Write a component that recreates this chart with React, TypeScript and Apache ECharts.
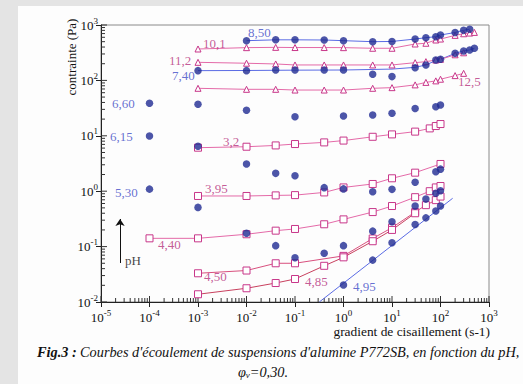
import React, { useEffect, useRef } from "react";
import * as echarts from "echarts";

// shear rate (s-1), stress (Pa)
const ph850 = [[0.01, 521], [0.04, 540], [0.1, 540], [0.4, 536], [1, 521], [4, 500], [10, 505], [30, 558], [50, 590], [80, 615], [100, 660], [200, 732], [300, 800], [400, 840]];
const ph101 = [[0.001, 369], [0.01, 390], [0.04, 395], [0.1, 392], [0.4, 392], [1, 390], [4, 380], [10, 380], [30, 454], [50, 468], [80, 536], [100, 558], [200, 650], [300, 695], [400, 715], [500, 735]];
const ph112 = [[0.001, 212], [0.01, 204], [0.04, 198], [0.1, 190], [0.4, 190], [1, 190], [4, 190], [10, 190], [30, 209], [50, 218], [80, 233], [100, 240], [200, 290], [300, 315]];
const ph740 = [[0.001, 150], [0.01, 150], [0.04, 154], [0.1, 154], [0.4, 154], [1, 154], [4, 129], [10, 117], [30, 169], [50, 190], [80, 233], [100, 240], [200, 308], [300, 340], [400, 354], [500, 380]];
const fit740 = [[0.001, 150], [0.01, 151], [0.1, 153], [1, 154], [10, 160], [30, 172], [50, 190], [80, 228], [100, 240], [200, 308], [300, 340], [400, 354], [500, 380]];
const ph125 = [[0.001, 72], [0.01, 69], [0.04, 69], [0.1, 67], [0.4, 67], [1, 67], [4, 72], [10, 74], [30, 83], [50, 92], [80, 98], [100, 105], [200, 122], [300, 134]];
const ph660 = [[1e-4, 38.6], [0.001, 37], [0.01, 29], [0.1, 22], [1, 22.8], [4, 23.7], [10, 25.5], [30, 31], [80, 33.5], [100, 36]];
const ph32 = [[0.001, 6.1], [0.01, 6.35], [0.04, 6.7], [0.1, 7.1], [0.4, 7.6], [1, 8.2], [4, 9.6], [10, 10.6], [30, 11.9], [60, 13.6], [80, 15], [100, 16.3]];
const ph615 = [[1e-4, 9.9], [0.001, 6.5], [0.01, 3.1], [0.04, 2.1], [0.1, 1.9], [0.4, 1.16], [1, 1.1], [4, 0.98], [10, 1.08], [30, 1.45], [80, 2.25], [100, 2.5]];
const ph395 = [[0.001, 0.82], [0.01, 0.82], [0.04, 0.84], [0.1, 0.85], [0.4, 0.95], [1, 1.17], [4, 1.35], [10, 1.71], [30, 2.16], [100, 3.1]];
const ph530 = [[1e-4, 1.09], [0.001, 0.51], [0.01, 0.174], [0.04, 0.104], [0.1, 0.063], [0.4, 0.076], [1, 0.104], [4, 0.19], [10, 0.28], [30, 0.54], [50, 0.72], [80, 0.92], [100, 1.02]];
const ph440 = [[1e-4, 0.141], [0.001, 0.141], [0.01, 0.167], [0.04, 0.194], [0.1, 0.208], [0.4, 0.253], [1, 0.31], [4, 0.42], [10, 0.54], [30, 0.78], [60, 1.0], [80, 1.17], [100, 1.24]];
const ph450 = [[0.001, 0.033], [0.01, 0.037], [0.04, 0.05], [0.1, 0.05], [1, 0.068], [4, 0.14], [10, 0.22], [30, 0.42], [50, 0.56], [80, 0.69], [100, 0.8]];
const ph485 = [[0.001, 0.0138], [0.01, 0.0177], [0.04, 0.022], [0.1, 0.026], [0.4, 0.045], [1, 0.064], [4, 0.125], [10, 0.2], [30, 0.4]];
const ph495 = [[1, 0.0203], [4, 0.057], [10, 0.117], [30, 0.25], [50, 0.33], [80, 0.44], [100, 0.54]];
const fit495 = [[0.317, 0.01], [178, 0.745]];

// curve labels: [text, x, y, colour key]
const curveLabels: [string, number, number, string][] = [
  ["8,50", 0.0107, 718, "b"],
  ["10,1", 0.00127, 473, "m"],
  ["11,2", 2.52e-4, 233, "m"],
  ["7,40", 2.91e-4, 125, "b"],
  ["6,60", 1.69e-5, 39, "b"],
  ["12,5", 230, 93.6, "m"],
  ["6,15", 1.53e-5, 9.9, "b"],
  ["3,2", 0.00327, 8.05, "m"],
  ["5,30", 1.94e-5, 0.967, "b"],
  ["3,95", 0.00139, 1.14, "m"],
  ["4,40", 1.5e-4, 0.111, "m"],
  ["4,50", 0.00133, 0.0294, "m"],
  ["4,85", 0.161, 0.023, "m"],
  ["4,95", 1.57, 0.0187, "b"],
  ["pH", 3.13e-5, 0.055, "k"],
];
const phArrow = [[2.47e-5, 0.0506], [2.47e-5, 0.315]];

const X_MIN = 1e-5, X_MAX = 1e3, Y_MIN = 1e-2, Y_MAX = 1e3;

const SERIF = "'Liberation Serif', 'DejaVu Serif', serif";
const DOT = "#1f2b92";
const BLUE_LINE = "#5a6be4";
const BLUE_TXT = "#3d4cc6";
const MAG = "#c8378a";
const MAG_LINE = "#e46aa8";
const MAG_TXT = "#b5317c";

function decadeTicks(lo: number, hi: number) {
  const major: number[] = [];
  const minor: number[] = [];
  for (let e = Math.round(Math.log10(lo)); e <= Math.round(Math.log10(hi)); e++) {
    major.push(Math.pow(10, e));
    if (e < Math.round(Math.log10(hi))) {
      for (let m = 2; m <= 9; m++) minor.push(m * Math.pow(10, e));
    }
  }
  return { major, minor };
}

export default function App() {
  const ref = useRef<HTMLDivElement>(null);
  useEffect(() => {
    if (!ref.current) return;
    const chart = echarts.init(ref.current, null, { renderer: "svg" });
    const xt = decadeTicks(X_MIN, X_MAX);
    const yt = decadeTicks(Y_MIN, Y_MAX);
    const tickData: number[][] = [];
    xt.minor.forEach((v) => tickData.push([v, Y_MIN, 0, 4]));
    xt.major.forEach((v) => tickData.push([v, Y_MIN, 0, 6]));
    yt.minor.forEach((v) => tickData.push([X_MIN, v, 1, 4]));
    yt.major.forEach((v) => tickData.push([X_MIN, v, 1, 6]));

    const powLabel = (v: number) => {
      const e = Math.round(Math.log10(v));
      return "{b|10}{s|" + e + "}";
    };
    const rich = {
      b: { fontSize: 13, fontFamily: SERIF, color: "#111" },
      s: { fontSize: 9, fontFamily: SERIF, color: "#111", padding: [0, 0, 9, 0] },
    };

    const dotSeries = (data: number[][]) => ({
      type: "scatter",
      data,
      symbol: "circle",
      symbolSize: 7.5,
      itemStyle: { color: DOT },
      z: 5,
    });
    const lineSeries = (data: number[][], color: string, z = 3) => ({
      type: "line",
      data,
      showSymbol: false,
      symbol: "none",
      lineStyle: { color, width: 1 },
      z,
    });
    const markSeries = (data: number[][], symbol: string, size: number, lineColor: string) => ({
      type: "line",
      data,
      symbol,
      symbolSize: size,
      showSymbol: true,
      lineStyle: { color: lineColor, width: 1 },
      itemStyle: { color: "#fff", borderColor: MAG, borderWidth: 1 },
      z: 4,
    });

    const colorOf = (k: string) => (k === "b" ? BLUE_TXT : k === "m" ? MAG_TXT : "#111");

    chart.setOption({
      animation: false,
      graphic: [
        { type: "rect", z: -100, shape: { x: 0, y: 0, width: 523, height: 384 }, style: { fill: "#e4e4e4" } },
        { type: "rect", z: -99, shape: { x: 18, y: 6, width: 505, height: 378 }, style: { fill: "#fdfdfd" } },
        {
          type: "text", x: 71, y: 57, rotation: Math.PI / 2,
          style: { text: "contrainte (Pa)", font: "13px " + SERIF, fill: "#111", align: "center", verticalAlign: "middle" },
        },
        {
          type: "text", x: 490, y: 331,
          style: { text: "gradient de cisaillement (s-1)", font: "13.4px " + SERIF, fill: "#111", align: "right", verticalAlign: "middle" },
        },
        {
          type: "text", x: 37, y: 352,
          style: {
            text: "{f|Fig.3 :} {i|Courbes d'écoulement de suspensions d'alumine P772SB, en fonction du pH,}",
            verticalAlign: "middle",
            rich: {
              f: { fontFamily: SERIF, fontSize: 14.3, fontStyle: "italic", fontWeight: "bold", fill: "#111" },
              i: { fontFamily: SERIF, fontSize: 14.3, fontStyle: "italic", fill: "#111" },
            },
          },
        },
        {
          type: "text", x: 263, y: 372,
          style: {
            text: "{i|φ}{v|v}{i|=0,30.}",
            align: "center",
            verticalAlign: "middle",
            rich: {
              i: { fontFamily: SERIF, fontSize: 14.3, fontStyle: "italic", fill: "#111" },
              v: { fontFamily: SERIF, fontSize: 9, fontStyle: "italic", fill: "#111", padding: [6, 0, 0, 0] },
            },
          },
        },
      ],
      grid: { left: 101, right: 34, top: 25, bottom: 82, show: true, borderColor: "#8a8a8a", borderWidth: 1, backgroundColor: "transparent" },
      xAxis: {
        type: "log", logBase: 10, min: X_MIN, max: X_MAX, splitNumber: 8,
        axisLine: { show: true, lineStyle: { color: "#222", width: 1 } },
        axisTick: { show: true, length: 5, lineStyle: { color: "#222" } },
        splitLine: { show: false },
        axisLabel: { formatter: powLabel, rich, margin: 6, showMinLabel: true, showMaxLabel: true },
      },
      yAxis: {
        type: "log", logBase: 10, min: Y_MIN, max: Y_MAX, splitNumber: 5,
        axisLine: { show: true, lineStyle: { color: "#222", width: 1 } },
        axisTick: { show: true, length: 5, lineStyle: { color: "#222" } },
        splitLine: { show: false },
        axisLabel: { formatter: powLabel, rich, margin: 3, showMinLabel: true, showMaxLabel: true },
      },
      series: [
        {
          type: "custom",
          data: tickData,
          encode: { x: 0, y: 1 },
          clip: false,
          silent: true,
          z: 1,
          renderItem: (params: any, api: any) => {
            const p = api.coord([api.value(0), api.value(1)]);
            const dir = api.value(2);
            const len = api.value(3);
            const shape = dir === 0
              ? { x1: p[0], y1: p[1], x2: p[0], y2: p[1] - len }
              : { x1: p[0], y1: p[1], x2: p[0] + len, y2: p[1] };
            return { type: "line", shape, style: { stroke: "#333", lineWidth: 1 } };
          },
        },
        lineSeries(ph850, BLUE_LINE),
        dotSeries(ph850),
        markSeries(ph101, "triangle", 6, MAG_LINE),
        markSeries(ph112, "triangle", 6, MAG_LINE),
        lineSeries(fit740, BLUE_LINE),
        dotSeries(ph740),
        markSeries(ph125, "triangle", 6, MAG_LINE),
        dotSeries(ph660),
        markSeries(ph32, "rect", 7, MAG_LINE),
        dotSeries(ph615),
        markSeries(ph395, "rect", 7, MAG_LINE),
        dotSeries(ph530),
        markSeries(ph440, "rect", 7, MAG_LINE),
        markSeries(ph450, "rect", 7, "#d8507e"),
        markSeries(ph485, "rect", 7, "#c8405e"),
        lineSeries(fit495, BLUE_LINE),
        dotSeries(ph495),
        {
          type: "scatter",
          symbolSize: 0,
          z: 6,
          data: curveLabels.map(([t, x, y, k]) => ({
            value: [x, y],
            name: t,
            label: { color: colorOf(k) },
          })),
          label: { show: true, position: "right", distance: 0, formatter: "{b}", fontFamily: SERIF, fontSize: 13, lineHeight: 13 },
          markLine: {
            silent: true,
            symbol: ["none", "arrow"],
            symbolSize: 7,
            label: { show: false },
            lineStyle: { color: "#111", width: 1, type: "solid" },
            data: [[{ coord: phArrow[0] }, { coord: phArrow[1] }]],
          },
        },
      ],
    });
    return () => chart.dispose();
  }, []);
  return <div ref={ref} style={{ position: "absolute", left: 0, top: 0, width: 523, height: 384 }} />;
}
